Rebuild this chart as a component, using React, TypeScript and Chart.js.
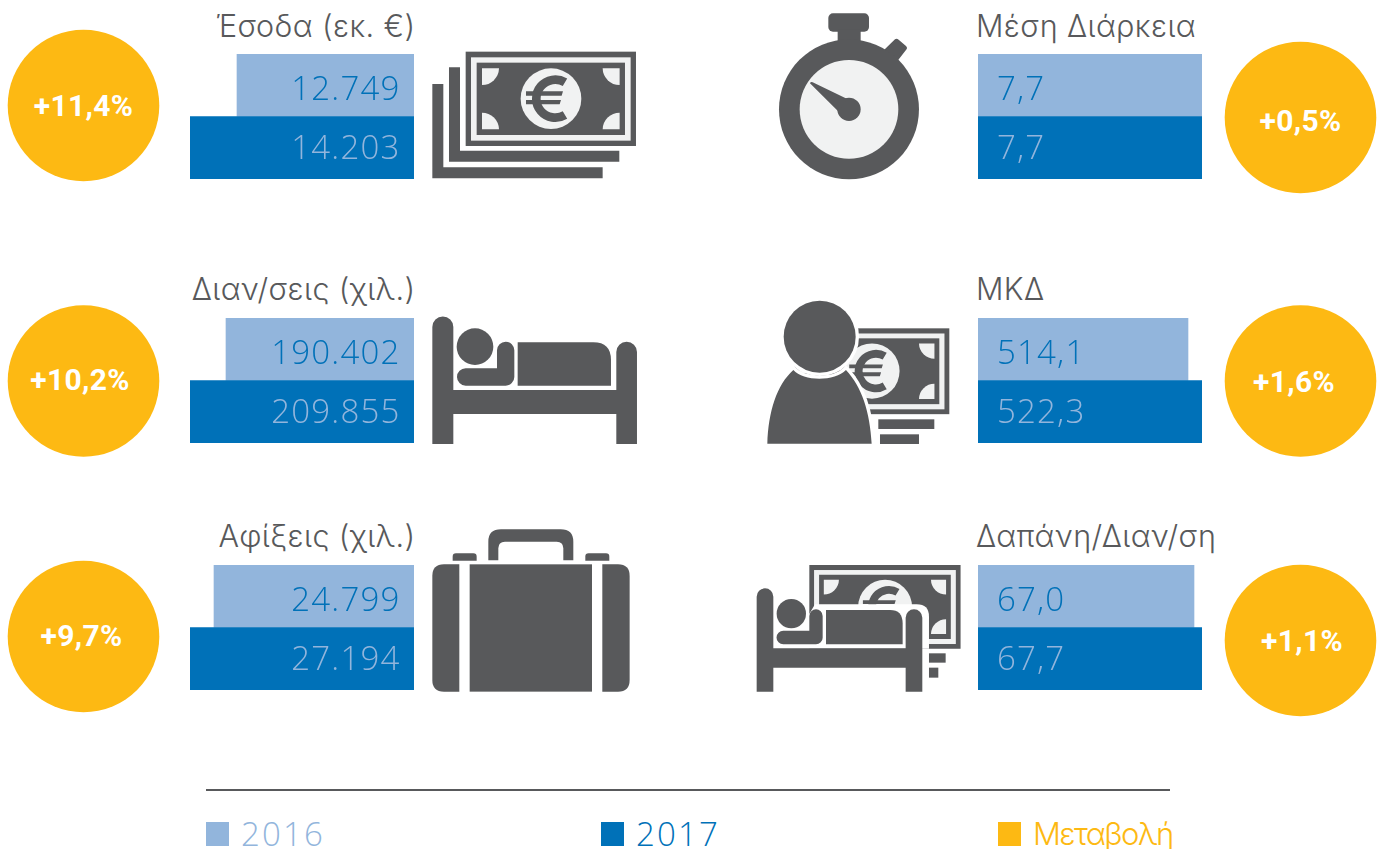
import React, { useEffect, useRef } from "react";
import { Chart, registerables } from "chart.js";

Chart.register(...registerables);

const years = ["2016", "2017"];
const titles = ["Έσοδα (εκ. €)", "Διαν/σεις (χιλ.)", "Αφίξεις (χιλ.)", "Μέση Διάρκεια", "ΜΚΔ", "Δαπάνη/Διαν/ση"];
const values2016 = [12749, 190402, 24799, 7.7, 514.1, 67.0];
const values2017 = [14203, 209855, 27194, 7.7, 522.3, 67.7];
const axisMins = [7273, 88815, 4841, 0, 391.1, 48.1];
const decimals = [0, 0, 0, 1, 1, 1];
const changes = ["+11,4%", "+10,2%", "+9,7%", "+0,5%", "+1,6%", "+1,1%"];
const legendNames = ["2016", "2017", "Μεταβολή"];

const LIGHT = "#92b5dc";
const BLUE = "#0071b8";
const YELLOW = "#fdb913";
const GREY = "#58595b";
const PALE = "#f1f2f2";
const TEXT_FONT = "Inter";
const NUM_FONT = "'Open Sans'";

const panelX = [190, 190, 190, 978, 978, 978];
const panelY = [54, 318, 565, 54, 318, 565];
const titleY = [26, 289, 536, 26, 289, 536];
const circleX = [83.5, 83.5, 83.5, 1300.5, 1300.5, 1300.5];
const circleY = [105.5, 381, 636.5, 117.5, 381, 640.5];
const changeDx = [0, -3.5, -2, 0, -6.5, 1.5];
const changeDy = [0, -1, -1, 3, 1, 0];
const legendX = [206, 601, 998];

function MiniBar({ index }: { index: number }) {
  const ref = useRef<HTMLCanvasElement>(null);
  useEffect(() => {
    const left = index < 3;
    const chart = new Chart(ref.current!, {
      type: "bar",
      data: {
        labels: years,
        datasets: [
          {
            data: [values2016[index], values2017[index]],
            backgroundColor: [LIGHT, BLUE],
            categoryPercentage: 1,
            barPercentage: 1,
            borderWidth: 0,
          },
        ],
      },
      options: {
        animation: false,
        responsive: false,
        indexAxis: "y",
        layout: { padding: 0 },
        scales: {
          x: { display: false, min: axisMins[index], max: values2017[index], reverse: left },
          y: { display: false },
        },
        plugins: { legend: { display: false }, tooltip: { enabled: false } },
      },
      plugins: [
        {
          id: "valueLabels",
          afterDatasetsDraw(c: any) {
            const ctx = c.ctx;
            const meta = c.getDatasetMeta(0);
            ctx.save();
            ctx.font = `300 33px ${NUM_FONT}`;
            (ctx as any).letterSpacing = "1.2px";
            ctx.textBaseline = "middle";
            ctx.textAlign = left ? "right" : "left";
            meta.data.forEach((bar: any, i: number) => {
              const v = c.data.datasets[0].data[i] as number;
              const s = v.toLocaleString("de-DE", {
                minimumFractionDigits: decimals[index],
                maximumFractionDigits: decimals[index],
              });
              ctx.fillStyle = i === 0 ? BLUE : LIGHT;
              ctx.fillText(s, left ? 210.5 : 19, bar.y + (i === 0 ? 5 : 1.5));
            });
            ctx.restore();
          },
        },
      ],
    } as any);
    return () => chart.destroy();
  }, [index]);
  return (
    <canvas
      ref={ref}
      width={224}
      height={125}
      style={{ position: "absolute", left: panelX[index], top: panelY[index], width: 224, height: 125 }}
    />
  );
}

function Note({ tx, ty, s }: { tx: number; ty: number; s: number }) {
  return (
    <g transform={`translate(${tx} ${ty}) scale(${s}) translate(-122 -35)`}>
      <rect x="122" y="35" width="511" height="283" fill={GREY} />
      <rect x="138" y="52" width="479" height="250" fill={PALE} />
      <rect x="155" y="68" width="445" height="217" fill={GREY} />
      <g fill={PALE}>
        <path d="M171 85H222A51 51 0 0 1 171 135Z" />
        <path d="M584 85V135A51 51 0 0 1 533 85Z" />
        <path d="M171 268V218A51 51 0 0 1 222 268Z" />
        <path d="M584 268H533A51 51 0 0 1 584 218Z" />
        <circle cx="378" cy="176" r="91" />
      </g>
      <path d="M420 127A57 57 0 1 0 420 225" fill="none" stroke={GREY} strokeWidth="26" />
      <path d="M303 154H414L410 167H303ZM303 180H408L404 193H303Z" fill={GREY} />
    </g>
  );
}

function Icons() {
  return (
    <svg width="1380" height="849" style={{ position: "absolute", left: 0, top: 0 }}>
      {/* money */}
      <g transform="translate(425 40) scale(0.3333)" fill={GREY}>
        <path d="M22 132H55V382H533V415H22Z" />
        <path d="M72 82H105V332H583V365H72Z" />
        <Note tx={122} ty={35} s={1} />
      </g>
      {/* stopwatch */}
      <g transform="translate(760 0) scale(0.3333)" fill={GREY}>
        <rect x="205" y="40" width="122" height="55" rx="14" />
        <rect x="233" y="90" width="69" height="50" />
        <path d="M372 150L405 118Q410 114 416 119L438 138Q444 144 438 150L410 186Z" />
        <circle cx="267" cy="328" r="210" />
        <circle cx="267" cy="328" r="148" fill={PALE} />
        <circle cx="267" cy="328" r="35" />
        <path d="M150 250Q152 244 158 247L262 297L236 335Z" />
      </g>
      {/* bed */}
      <g transform="translate(425 305) scale(0.3333)" fill={GREY}>
        <path d="M22 417V66A31 31 0 0 1 85 66V255H574V141A31 31 0 0 1 636 141V417H574V327H85V417Z" />
        <circle cx="150" cy="125" r="55" />
        <path d="M122 190H216V136A26 26 0 0 1 268 136V216A26 26 0 0 1 242 242H122A26 26 0 0 1 122 190Z" />
        <path d="M278 112H505Q558 112 558 165V242H278Z" />
      </g>
      {/* person with money */}
      <g transform="translate(760 295) scale(0.3333)" fill={GREY}>
        <Note tx={103} ty={100} s={0.91} />
        <rect x="355" y="373" width="168" height="29" />
        <rect x="360" y="418" width="117" height="29" />
        <circle cx="179" cy="125" r="108" stroke="#fff" strokeWidth="20" paintOrder="stroke" />
        <path
          d="M22 446C25 350 50 270 100 225C130 260 225 260 258 225C305 275 330 350 335 446Z"
          stroke="#fff"
          strokeWidth="20"
          paintOrder="stroke"
        />
      </g>
      {/* suitcase */}
      <g transform="translate(425 520) scale(0.3333)" fill={GREY}>
        <path d="M190 121V65Q190 28 228 28H407Q445 28 445 65V121H415V85Q415 65 395 65H240Q220 65 220 85V121Z" />
        <path d="M83 122V110Q83 100 93 100H145Q155 100 155 110V122Z" />
        <path d="M481 122V110Q481 100 491 100H543Q553 100 553 110V122Z" />
        <path d="M103 133V515H57Q22 515 22 480V168Q22 133 57 133Z" />
        <rect x="134" y="133" width="367" height="382" />
        <path d="M532 133V515H579Q614 515 614 480V168Q614 133 579 133Z" />
      </g>
      {/* bed with money */}
      <g transform="translate(750 555) scale(0.3333)" fill={GREY}>
        <Note tx={178} ty={30} s={0.888} />
        <path d="M195 148H500Q537 148 537 185V281H170V190Z" fill="#fff" />
        <rect x="537" y="295" width="50" height="28" />
        <rect x="537" y="338" width="28" height="30" />
        <path d="M20 410V125A25 25 0 0 1 70 125V280H467V188A25 25 0 0 1 517 188V410H467V338H70V410Z" />
        <circle cx="124" cy="176" r="44" />
        <path d="M100 227H178V183A20 20 0 0 1 218 183V248A20 20 0 0 1 198 268H100A20 20 0 0 1 100 227Z" />
        <path d="M228 165H420Q458 165 458 205V268H228Z" />
      </g>
      {/* circles */}
      {circleX.map((cx, i) => (
        <circle key={i} cx={cx} cy={circleY[i]} r={75.8} fill={YELLOW} />
      ))}
      {/* rule */}
      <rect x="206" y="789" width="964" height="2" fill={GREY} />
      {/* legend swatches */}
      {legendX.map((x, i) => (
        <rect key={i} x={x} y="822" width="23" height="24" fill={[LIGHT, BLUE, YELLOW][i]} />
      ))}
    </svg>
  );
}

export default function App() {
  return (
    <div
      style={{
        position: "absolute",
        left: 0,
        top: 0,
        width: 1380,
        height: 849,
        overflow: "hidden",
        background: "#fff",
        fontFamily: TEXT_FONT,
      }}
    >
      <Icons />
      {titles.map((t, i) => (
        <div
          key={t}
          style={{
            position: "absolute",
            top: titleY[i] - 20,
            lineHeight: "40px",
            fontSize: 30.5,
            fontWeight: 300,
            letterSpacing: 0.4,
            color: GREY,
            whiteSpace: "nowrap",
            ...(i < 3 ? { right: 1380 - 415.5 } : { left: 976 }),
          }}
        >
          {t}
        </div>
      ))}
      {titles.map((_, i) => (
        <MiniBar key={i} index={i} />
      ))}
      {changes.map((c, i) => (
        <div
          key={c}
          style={{
            position: "absolute",
            left: circleX[i] - 75 + changeDx[i],
            top: circleY[i] - 20 + changeDy[i],
            width: 150,
            lineHeight: "40px",
            textAlign: "center",
            fontFamily: "Roboto",
            fontWeight: 700,
            fontSize: 30,
            letterSpacing: 0.3,
            color: "#fff",
          }}
        >
          {c}
        </div>
      ))}
      {legendNames.map((n, i) => (
        <div
          key={n}
          style={{
            position: "absolute",
            left: legendX[i] + 35,
            top: 820,
            lineHeight: "27px",
            fontSize: i < 2 ? 33 : 31,
            fontWeight: 300,
            fontFamily: i < 2 ? NUM_FONT : TEXT_FONT,
            letterSpacing: i < 2 ? 2.2 : -1.6,
            color: [LIGHT, BLUE, YELLOW][i],
            whiteSpace: "nowrap",
          }}
        >
          {n}
        </div>
      ))}
    </div>
  );
}
